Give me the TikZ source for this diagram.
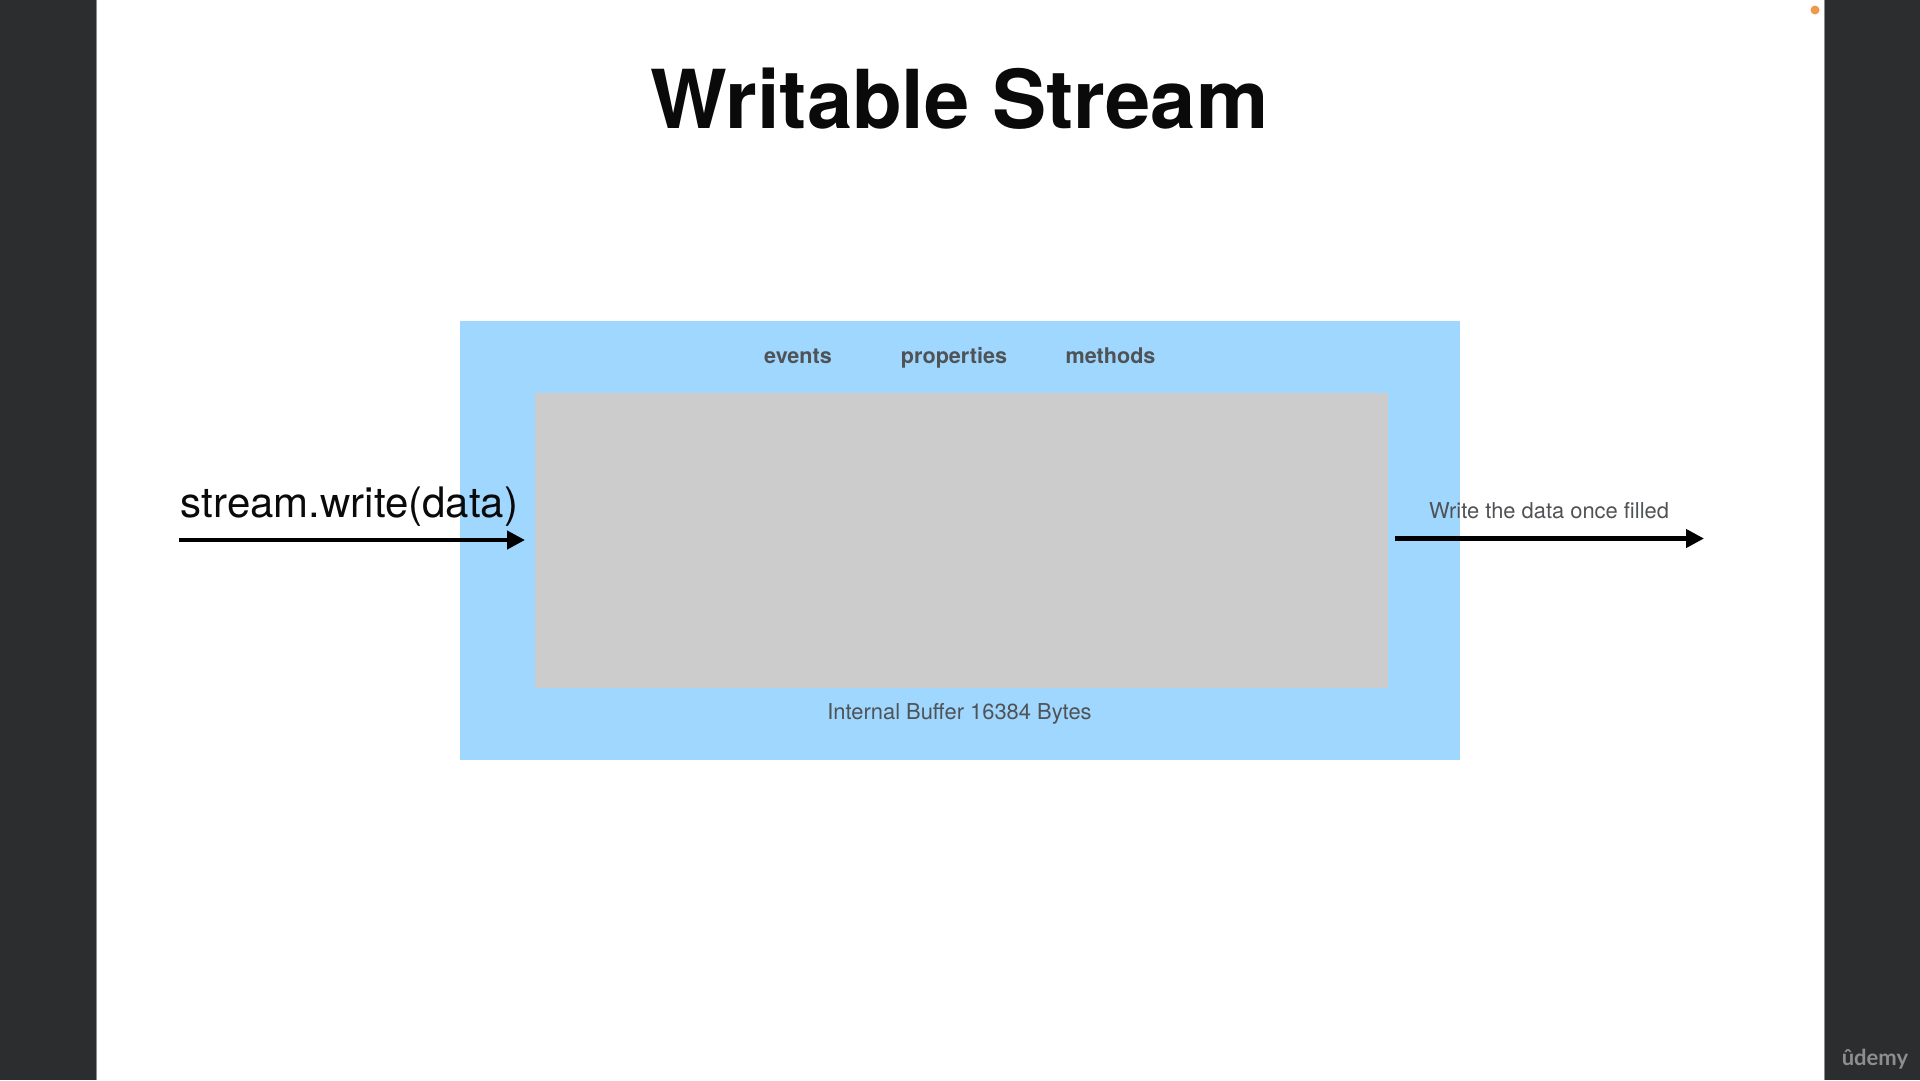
\documentclass[tikz,border=0pt]{standalone}
\usepackage{fontspec}
\setmainfont{TeX Gyre Heros}
\newfontfamily\logofont{Lato}
\usetikzlibrary{arrows.meta}
\definecolor{sidebar}{HTML}{2B2D2F}
\definecolor{panelblue}{HTML}{9FD7FF}
\definecolor{buffergray}{HTML}{CCCCCC}
\definecolor{softtext}{HTML}{505356}
\definecolor{darktext}{HTML}{0A0A0A}
\definecolor{logogray}{HTML}{8E8E8E}
\definecolor{dotorange}{HTML}{EE9A4D}
\tikzset{
  x=1pt,y=-1pt,
  flow/.style={line width=4.2pt,black,-{Triangle[length=18pt,width=18pt]},shorten >=0pt},
  lbl/.style={inner sep=0pt,anchor=base,text=softtext,font=\fontsize{21.9}{26}\selectfont},
  lblb/.style={lbl,font=\fontsize{21.6}{26}\selectfont\bfseries},
  fillbox/.style={inner sep=0pt,outer sep=0pt,anchor=north west}
}
\begin{document}
\begin{tikzpicture}
\useasboundingbox (0,0) rectangle (1920,1080);
\fill[white] (0,0) rectangle (1920,1080);
\fill[sidebar] (0,0) rectangle (96,1080);
\fill[sidebar] (1824,0) rectangle (1920,1080);
\fill[black!45] (1823.5,0) rectangle (1825,1080);
\fill[black!45] (95.5,0) rectangle (96.5,1080);
\fill[dotorange] (1815,10) circle (4.5);
\node[fillbox,fill=panelblue,minimum width=1000pt,minimum height=439pt] (outer) at (460,321) {};
\node[fillbox,fill=buffergray,minimum width=853pt,minimum height=295pt] (buffer) at (535,392.5) {};
\node[inner sep=0pt,anchor=base,text=darktext,font=\fontsize{81.3}{96}\selectfont\bfseries] (title) at (959.5,128.5) {Writable Stream};
\node[inner sep=0pt,anchor=base,text=darktext,font=\fontsize{42}{50}\selectfont] (call) at (349.5,517) {stream.write(data)};
\node[lbl] (once) at (1549,518) {Write the data once filled};
\node[lblb] (events) at (798,363) {events};
\node[lblb] (props) at (954,363) {properties};
\node[lblb] (meth) at (1110.5,363) {methods};
\node[lbl] (internal) at (959.5,719) {Internal Buffer 16384 Bytes};
\node[inner sep=0pt,anchor=base,text=logogray,font=\logofont\bfseries\fontsize{22}{28}\selectfont] (logo) at (1875,1065) {ûdemy};
\coordinate (inA) at (179,540);
\coordinate (inB) at (525,540);
\coordinate (outA) at (1395,538.5);
\coordinate (outB) at (1704,538.5);
\draw[flow] (inA) -- (inB);
\draw[flow] (outA) -- (outB);
\end{tikzpicture}
\end{document}
